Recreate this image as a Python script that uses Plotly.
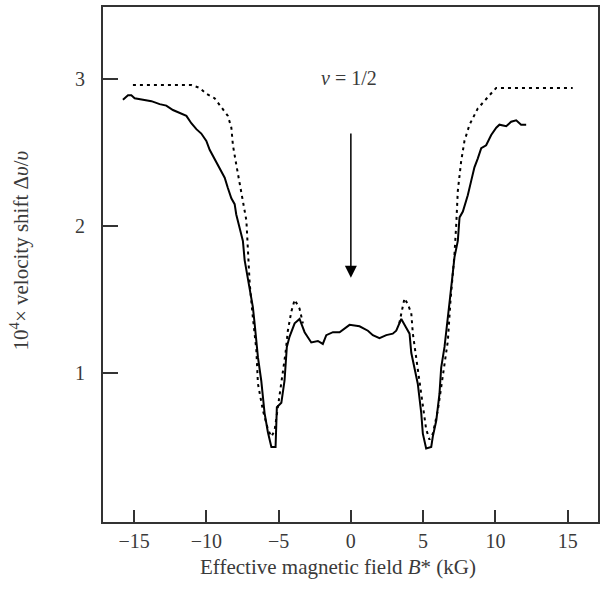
import plotly.graph_objects as go

# Measured (solid) curve
meas_x = [-15.77, -15.42, -15.19, -14.96, -14.38, -13.80, -13.23, -12.77, -12.31, -11.85,
          -11.38, -11.04, -10.69, -10.35, -10.00, -9.77, -9.43, -9.08, -8.73, -8.51,
          -8.27, -8.04, -7.93, -7.70, -7.47, -7.35, -7.00, -6.78, -6.66, -6.43,
          -6.20, -5.97, -5.74, -5.50, -5.21, -5.12, -4.81, -4.59, -4.43, -4.24,
          -3.89, -3.55, -3.20, -2.74, -2.28, -1.94, -1.70, -1.24, -0.78, -0.09,
          0.60, 1.18, 1.52, 1.98, 2.45, 2.90, 3.14, 3.49, 3.83, 4.06,
          4.18, 4.41, 4.63, 4.87, 4.98, 5.21, 5.56, 5.67, 5.91, 6.13,
          6.25, 6.48, 6.71, 6.87, 7.05, 7.17, 7.40, 7.52, 7.75, 8.09,
          8.33, 8.55, 8.78, 9.02, 9.36, 9.71, 10.06, 10.28, 10.75, 11.09,
          11.44, 11.78, 12.13]
meas_y = [2.86, 2.89, 2.89, 2.87, 2.86, 2.85, 2.83, 2.82, 2.79, 2.77,
          2.75, 2.70, 2.66, 2.63, 2.58, 2.52, 2.46, 2.40, 2.33, 2.26,
          2.19, 2.15, 2.08, 1.99, 1.90, 1.77, 1.56, 1.45, 1.34, 1.11,
          0.95, 0.73, 0.60, 0.50, 0.50, 0.77, 0.80, 0.95, 1.18, 1.25,
          1.34, 1.37, 1.28, 1.21, 1.22, 1.20, 1.26, 1.28, 1.28, 1.33,
          1.32, 1.29, 1.26, 1.24, 1.26, 1.27, 1.29, 1.37, 1.31, 1.27,
          1.14, 1.02, 0.93, 0.73, 0.59, 0.49, 0.50, 0.57, 0.68, 0.86,
          1.04, 1.18, 1.36, 1.52, 1.68, 1.79, 1.90, 2.06, 2.10, 2.21,
          2.31, 2.40, 2.46, 2.53, 2.55, 2.62, 2.67, 2.69, 2.68, 2.71,
          2.72, 2.69, 2.69]

# Theory (dotted) curve; None marks the gap hidden under the data
theo_x = [-15.08, -11.04, -10.46, -10.00, -9.43, -8.96, -8.51, -8.27, -8.16, -7.93,
          -7.70, -7.47, -7.23, -7.12, -7.00, -6.78, -6.54, -6.43, -6.09, -5.74,
          -5.50, -5.28, -5.05, -4.81, -4.52, -4.36, -4.12, -3.89, -3.55, -3.32,
          None,
          3.35, 3.49, 3.71, 3.94, 4.18, 4.29, 4.52, 4.75, 4.98, 5.21,
          5.44, 5.67, 6.02, 6.25, 6.48, 6.71, 6.89, 7.17, 7.29, 7.40,
          7.63, 7.86, 8.21, 8.78, 9.59, 10.06, 15.35]
theo_y = [2.96, 2.96, 2.94, 2.90, 2.87, 2.81, 2.75, 2.67, 2.55, 2.42,
          2.28, 2.17, 2.04, 1.86, 1.61, 1.38, 1.16, 0.93, 0.75, 0.62,
          0.57, 0.61, 0.77, 0.95, 1.14, 1.29, 1.42, 1.50, 1.44, 1.34,
          None,
          1.34, 1.41, 1.51, 1.47, 1.41, 1.27, 1.11, 0.95, 0.77, 0.62,
          0.55, 0.59, 0.75, 0.91, 1.04, 1.22, 1.49, 1.81, 2.01, 2.24,
          2.44, 2.58, 2.69, 2.80, 2.89, 2.94, 2.94]

x_ticks = [-15, -10, -5, 0, 5, 10, 15]
x_tick_text = ["\u221215", "\u221210", "\u22125", "0", "5", "10", "15"]
y_ticks = [1, 2, 3]

FONT = "Liberation Serif"
TXT = "#3a3a3a"
AX = "#333333"

fig = go.Figure()
fig.add_trace(go.Scatter(x=theo_x, y=theo_y, mode="lines", connectgaps=False,
                         line=dict(color="black", width=2, dash="3px,4px"),
                         hoverinfo="skip", showlegend=False))
fig.add_trace(go.Scatter(x=meas_x, y=meas_y, mode="lines",
                         line=dict(color="black", width=2),
                         hoverinfo="skip", showlegend=False))

fig.add_annotation(x=0, y=1.65, ax=0, ay=2.64, xref="x", yref="y", axref="x", ayref="y",
                   showarrow=True, arrowhead=2, arrowsize=1.6, arrowwidth=1.5,
                   arrowcolor="black", text="")
fig.add_annotation(x=-0.15, y=3.01, xref="x", yref="y", showarrow=False,
                   text="<i>\u03bd</i> = 1/2", font=dict(family=FONT, size=20, color=TXT))
fig.add_annotation(x=-0.168, y=0.527, xref="paper", yref="paper", showarrow=False,
                   textangle=-90, xanchor="center", yanchor="middle",
                   text="10<sup>4</sup>\u00d7 velocity shift \u0394<i>\u03c5</i>/<i>\u03c5</i>",
                   font=dict(family=FONT, size=21, color=TXT))
fig.add_annotation(x=0.475, y=-0.0875, xref="paper", yref="paper", showarrow=False,
                   xanchor="center", yanchor="middle",
                   text="Effective magnetic field <i>B</i>* (kG)",
                   font=dict(family=FONT, size=21, color=TXT))

fig.update_layout(
    width=606, height=592,
    margin=dict(l=103, r=8, t=5, b=70),
    paper_bgcolor="white", plot_bgcolor="white",
    font=dict(family=FONT, size=20, color=TXT),
    xaxis=dict(range=[-17.15, 17.1], tickvals=x_ticks, ticktext=x_tick_text,
               ticks="inside", ticklen=12, tickwidth=2, tickcolor=AX,
               showline=True, linecolor=AX, linewidth=2, mirror=True,
               showgrid=False, zeroline=False, tickfont=dict(size=20)),
    yaxis=dict(range=[-0.01, 3.49], tickvals=y_ticks,
               ticks="inside", ticklen=15, tickwidth=2, tickcolor=AX,
               showline=True, linecolor=AX, linewidth=2, mirror=True,
               showgrid=False, zeroline=False, ticklabelstandoff=12,
               tickfont=dict(size=20)),
)

fig.write_html("out.html")
